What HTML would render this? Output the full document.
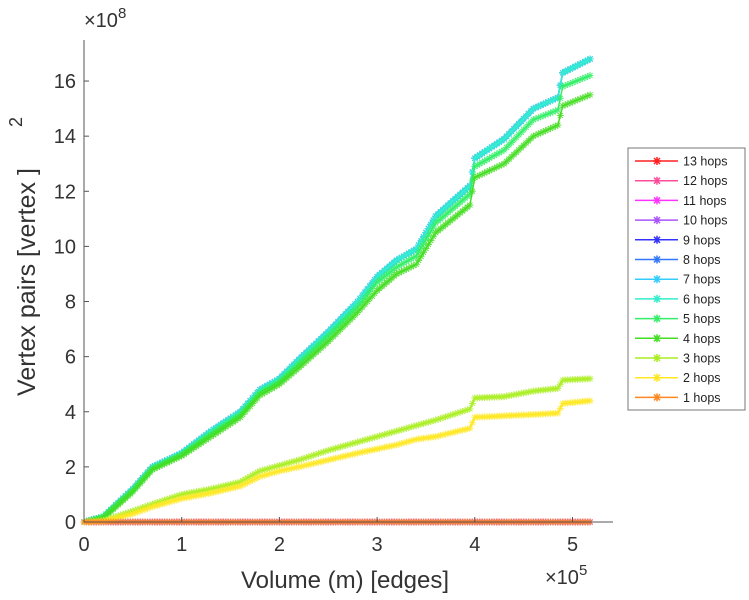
<!DOCTYPE html>
<html><head><meta charset="utf-8"><style>
body{margin:0;background:#fff;}
svg{display:block;font-family:"Liberation Sans",sans-serif;}
</style></head><body>
<svg id="chart" width="749" height="600">
<g id="plot"></g>
<g id="axes"></g>
<g id="legend"></g>
</svg>
<script>
const xVals=[0,0.2,0.5,0.7,1.0,1.3,1.6,1.8,2.0,2.2,2.5,2.8,3.0,3.2,3.4,3.6,3.95,4.0,4.3,4.6,4.85,4.9,5.18];
const hops6to9=[0,0.2,1.2,2.0,2.5,3.3,4.0,4.8,5.2,5.9,6.9,8.0,8.9,9.5,9.9,11.1,12.2,13.2,13.9,15.0,15.4,16.3,16.8];
const hops5=[0,0.2,1.15,1.95,2.45,3.2,3.9,4.7,5.1,5.75,6.75,7.8,8.7,9.25,9.65,10.85,11.9,12.9,13.5,14.6,14.95,15.8,16.2];
const hops4=[0,0.15,1.1,1.9,2.4,3.1,3.8,4.6,5.0,5.6,6.55,7.6,8.4,9.0,9.35,10.5,11.5,12.5,13.0,14.0,14.4,15.1,15.5];
const hops3=[0,0.05,0.4,0.65,1.0,1.2,1.45,1.85,2.05,2.25,2.6,2.9,3.1,3.3,3.5,3.7,4.1,4.5,4.55,4.75,4.85,5.15,5.2];
const hops2=[0,0.03,0.3,0.55,0.85,1.05,1.3,1.65,1.85,2.0,2.25,2.5,2.65,2.8,3.0,3.1,3.4,3.8,3.85,3.9,3.95,4.3,4.4];
const hops1=[0,0,0,0,0,0,0,0,0,0,0,0,0,0,0,0,0,0,0,0,0,0,0];
const xTicks=[0,1,2,3,4,5];
const yTicks=[0,2,4,6,8,10,12,14,16];
const legendLabels=["13 hops","12 hops","11 hops","10 hops","9 hops","8 hops","7 hops","6 hops","5 hops","4 hops","3 hops","2 hops","1 hops"];
const legendColors=["#ff2020","#ff4c9a","#ff33ff","#aa55ff","#3333ff","#3377ff","#33ccff","#33eecc","#33ee66","#44dd22","#aaee22","#ffe822","#ff8822"];
const X=v=>84+v*97.7, Y=v=>522-v*27.56;
const NS="http://www.w3.org/2000/svg";
function mk(t,a,p){const e=document.createElementNS(NS,t);for(const k in a)e.setAttribute(k,a[k]);p.appendChild(e);return e;}
const plot=document.getElementById('plot'),axes=document.getElementById('axes'),leg=document.getElementById('legend');
function dense(arr){const pts=[];for(let i=0;i<xVals.length-1;i++){const n=Math.max(2,Math.round((xVals[i+1]-xVals[i])*40));for(let s=0;s<n;s++){const t=s/n;pts.push([xVals[i]+(xVals[i+1]-xVals[i])*t,arr[i]+(arr[i+1]-arr[i])*t]);}}pts.push([xVals[xVals.length-1],arr[arr.length-1]]);return pts;}
function series(arr,color,name){
 const g=mk('g',{},plot);
 
 
 const pts=dense(arr);
 mk('polyline',{points:pts.map(p=>X(p[0])+','+Y(p[1])).join(' '),fill:'none',stroke:color,'stroke-width':1.5,'stroke-linejoin':'round'},g);
 let d='';pts.forEach(p=>{const x=X(p[0]),y=Y(p[1]);d+=`M${x-3.5},${y}h7M${x},${y-3.5}v7M${x-2.5},${y-2.5}l5,5M${x-2.5},${y+2.5}l5,-5`;});
 mk('path',{d:d,stroke:color,'stroke-width':1,fill:'none','stroke-opacity':0.85},g);
}
series(hops1,legendColors[0],'series-13-hops');series(hops1,legendColors[1],'series-12-hops');series(hops1,legendColors[2],'series-11-hops');series(hops1,legendColors[3],'series-10-hops');
series(hops6to9,legendColors[4],'series-9-hops');series(hops6to9,legendColors[5],'series-8-hops');
series(hops6to9,legendColors[6],'series-7-hops');series(hops6to9,legendColors[7],'series-6-hops');
series(hops5,legendColors[8],'series-5-hops');series(hops4,legendColors[9],'series-4-hops');
series(hops3,legendColors[10],'series-3-hops');series(hops2,legendColors[11],'series-2-hops');series(hops1,legendColors[12],'series-1-hops');
// axes
mk('line',{x1:84,y1:40,x2:84,y2:522,stroke:'#555','stroke-width':1},axes);
mk('line',{x1:84,y1:522,x2:613,y2:522,stroke:'#555','stroke-width':1},axes);
xTicks.forEach(v=>{mk('line',{x1:X(v),y1:522,x2:X(v),y2:517,stroke:'#555'},axes);const t=mk('text',{x:X(v),y:551,'text-anchor':'middle','font-size':20,fill:'#333'},axes);t.textContent=v;});
yTicks.forEach(v=>{mk('line',{x1:84,y1:Y(v),x2:89,y2:Y(v),stroke:'#555'},axes);const t=mk('text',{x:76,y:Y(v)+7,'text-anchor':'end','font-size':20,fill:'#333'},axes);t.textContent=v;});
let t;
t=mk('text',{x:84,y:27,'font-size':20,fill:'#333'},axes);t.innerHTML='×10<tspan dy="-9" font-size="15">8</tspan>';
t=mk('text',{x:545,y:584,'font-size':20,fill:'#333'},axes);t.innerHTML='×10<tspan dy="-9" font-size="15">5</tspan>';
t=mk('text',{x:345,y:588,'text-anchor':'middle','font-size':24,fill:'#333'},axes);t.textContent='Volume (m) [edges]';
t=mk('text',{x:0,y:0,'text-anchor':'middle','font-size':25,fill:'#333',transform:'translate(35,282) rotate(-90)'},axes);t.textContent='Vertex pairs [vertex    ]';
t=mk('text',{x:0,y:0,'text-anchor':'middle','font-size':18,fill:'#333',transform:'translate(22,122) rotate(-90)'},axes);t.textContent='2';
// legend
mk('rect',{x:628,y:148,width:117,height:262,fill:'#fff',stroke:'#777','stroke-width':1},leg);
legendLabels.forEach((l,i)=>{const y=161+i*19.7;const g=mk('g',{},leg);
 
 
 mk('line',{x1:635,y1:y,x2:678,y2:y,stroke:legendColors[i],'stroke-width':1.5},g);
 mk('path',{d:`M653,${y}h8M657,${y-4}v8M654,${y-3}l6,6M654,${y+3}l6,-6`,stroke:legendColors[i],'stroke-width':1.5},g);
 const tx=mk('text',{x:683,y:y+4.5,'font-size':12.5,fill:'#222'},g);tx.textContent=l;});
</script>
</body></html>
